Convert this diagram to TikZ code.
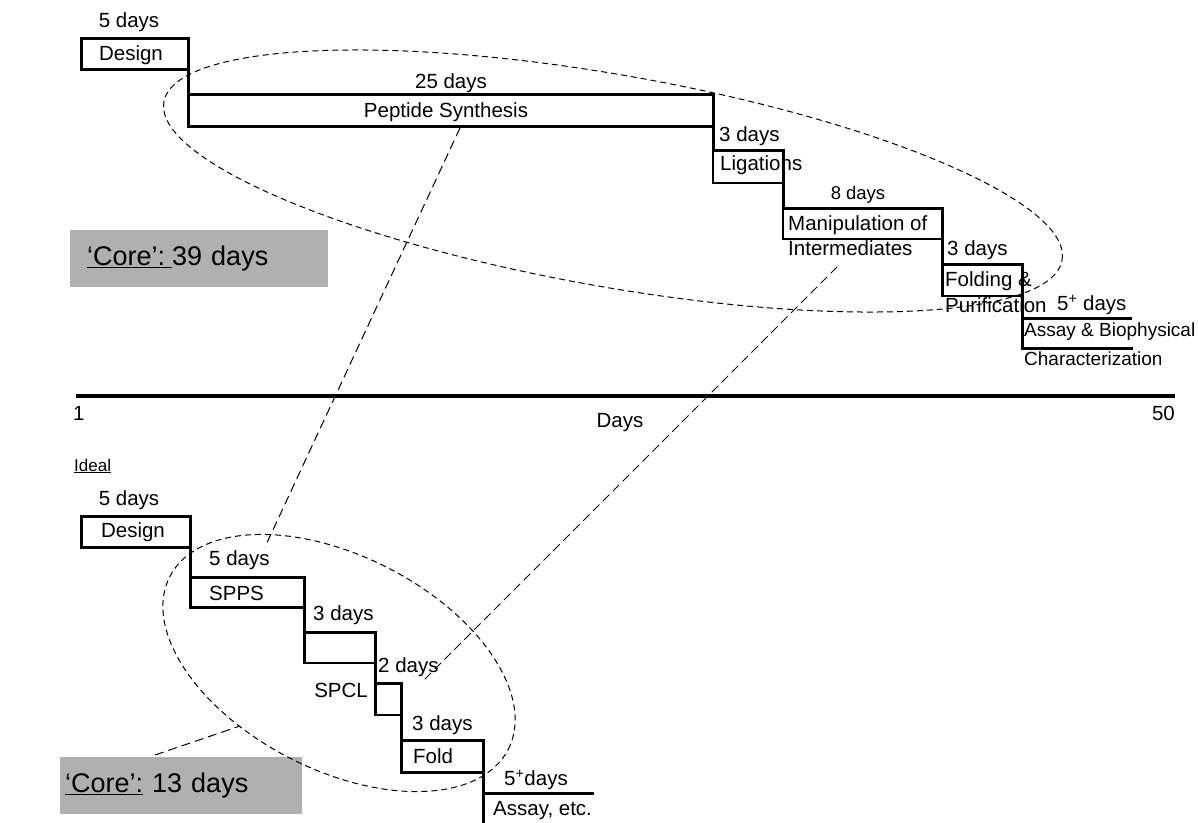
\documentclass[tikz,border=0pt]{standalone}
\usepackage{fontspec}
\setmainfont{Liberation Sans}
\usetikzlibrary{shapes.geometric}
\definecolor{coregray}{gray}{0.69}

\begin{document}
\begin{tikzpicture}[x=1pt, y=-1pt,
  txt/.style={inner sep=0pt, font=\fontsize{20.5}{24}\selectfont},
  smalltxt/.style={inner sep=0pt, font=\fontsize{18.5}{22}\selectfont},
  stage/.style={draw, line width=1.5pt, inner sep=0pt, outer sep=0pt},
  boldstage/.style={draw, line width=3pt, inner sep=0pt, outer sep=0pt},
  stair/.style={line width=3pt},
  core/.style={fill=coregray, anchor=north west, minimum height=57pt, align=left, font=\fontsize{27}{32}\selectfont},
  ring/.style={draw, ellipse, line width=1pt, dash pattern=on 6pt off 4pt, inner sep=0pt},
  guide/.style={line width=1pt, dash pattern=on 9pt off 5pt}]
\useasboundingbox (0,0) rectangle (1198,822);

% current schedule
\node[boldstage, minimum width=107pt, minimum height=31pt] (d1) at (134.5,53.5) {};
\node[boldstage, minimum width=525pt, minimum height=32pt] (p1) at (450.5,110) {};
\node[stage, minimum width=70pt, minimum height=33pt] (l1) at (748,166.5) {};
\node[stage, minimum width=159pt, minimum height=31pt] (m1) at (862.5,223.5) {};
\node[stage, minimum width=80pt, minimum height=32pt] (f1) at (982,280) {};
\coordinate (a1) at (1022,318);
\coordinate (a1e) at (1132,318);
\coordinate (a1b) at (1022,348);
\coordinate (a1be) at (1133,348);
\draw[stair] (d1.north east) -- (p1.north west) -- (p1.north east) -- (l1.north west) -- (l1.north east)
  -- (m1.north west) -- (m1.north east) -- (f1.north west) -- (f1.north east) -- (a1) -- (a1e);
\draw[stair] (f1.north west) -- (f1.south west);
\draw[stair] (a1) -- (a1b) -- (a1be);

\node[txt] (t1) at (129,22) {5 days};
\node[txt] (t2) at (131,55) {Design};
\node[txt] (t3) at (451,83) {25 days};
\node[txt] (t4) at (446,112) {Peptide Synthesis};
\node[txt, anchor=west] (t5) at (719,136) {3 days};
\node[txt, anchor=west] (t6) at (720,165) {Ligations};
\node[smalltxt] (t7) at (858,195) {8 days};
\node[txt, anchor=west] (t8) at (788,225) {Manipulation of};
\node[txt, anchor=west] (t9) at (788,248) {Intermediates};
\node[txt, anchor=west] (t10) at (947,250) {3 days};
\node[txt, anchor=west] (t11) at (945,281) {Folding \&};
\node[txt, anchor=west] (t12) at (945,305) {Purification};
\node[txt, anchor=west] (t13) at (1057,305) {5\textsuperscript{+} days};
\node[txt, anchor=west, font=\fontsize{19}{22}\selectfont] (t14) at (1024,332) {Assay \& Biophysical};
\node[txt, anchor=west, font=\fontsize{19}{22}\selectfont] (t15) at (1024,359) {Characterization};

\node[core, inner xsep=17pt, text width=224pt] (c1) at (70,230) {\underline{‘Core’:\hspace{7pt}}39 days};
\node[ring, minimum width=912pt, minimum height=212pt, rotate=-10] (e1) at (613,181) {};

% time axis
\coordinate (ax0) at (76,396);
\coordinate (ax1) at (1175,396);
\draw[line width=4pt] (ax0) -- (ax1);
\node[txt, anchor=west] (n1) at (73,413) {1};
\node[txt, anchor=east] (n50) at (1175,413) {50};
\node[txt] (days) at (620,423) {Days};
\node[txt, anchor=west, font=\fontsize{17}{20}\selectfont] (ideal) at (74,466) {\underline{Ideal}};

% ideal schedule
\node[boldstage, minimum width=109pt, minimum height=31pt] (d2) at (135.5,531.5) {};
\node[boldstage, minimum width=114pt, minimum height=30pt] (s2) at (247,592) {};
\node[stage, minimum width=71pt, minimum height=31pt] (c2a) at (339.5,647.5) {};
\node[stage, minimum width=26pt, minimum height=32pt] (c2b) at (388,699) {};
\node[boldstage, minimum width=82pt, minimum height=32pt] (f2) at (442,756) {};
\coordinate (a2) at (483,793);
\coordinate (a2e) at (594,793);
\coordinate (a2d) at (483,830);
\draw[stair] (d2.north east) -- (s2.north west) -- (s2.north east) -- (c2a.north west) -- (c2a.north east)
  -- (c2b.north west) -- (c2b.north east) -- (f2.north west) -- (f2.north east) -- (a2) -- (a2e);
\draw[stair] (c2a.north west) -- (c2a.south west);
\draw[stair] (c2b.north west) -- (c2b.south west);
\draw[stair] (a2) -- (a2d);

\node[txt] (u1) at (129,500) {5 days};
\node[txt] (u2) at (133,532) {Design};
\node[txt, anchor=west] (u3) at (209,560) {5 days};
\node[txt, anchor=west] (u4) at (209,593) {SPPS};
\node[txt, anchor=west] (u5) at (313,615) {3 days};
\node[txt, anchor=west] (u6) at (378,667) {2 days};
\node[txt, anchor=east] (u7) at (368,690) {SPCL};
\node[txt, anchor=west] (u8) at (412,725) {3 days};
\node[txt, anchor=west] (u9) at (413,756) {Fold};
\node[txt, anchor=west] (u10) at (504,780) {5\textsuperscript{+}days};
\node[txt, anchor=west] (u11) at (493,811) {Assay, etc.};

\node[core, inner xsep=5pt, text width=232pt] (c2) at (60,757) {\underline{‘Core’:} 13 days};
\node[ring, minimum width=380pt, minimum height=214pt, rotate=-27] (e2) at (339,663) {};

% links between the two plans
\coordinate (g1) at (460,128);
\coordinate (g2) at (265,547);
\coordinate (g3) at (837,267);
\coordinate (g4) at (422,682);
\coordinate (g5) at (155,755);
\coordinate (g6) at (240,726);
\draw[guide] (g1) -- (g2);
\draw[guide] (g3) -- (g4);
\draw[guide] (g5) -- (g6);
\end{tikzpicture}
\end{document}
